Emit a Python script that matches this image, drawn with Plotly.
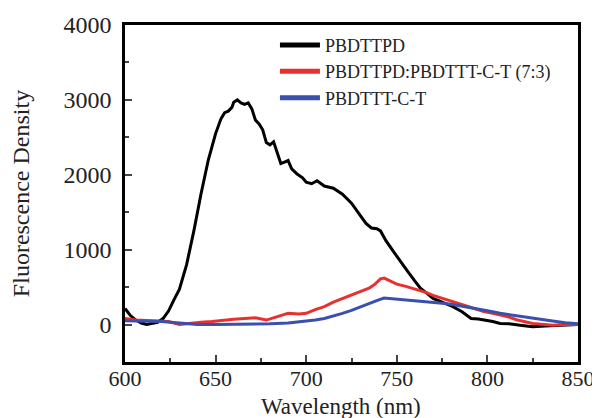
import plotly.graph_objects as go

# Wavelength (nm) and fluorescence values
black_x = [600, 603, 606, 609, 612, 615, 618, 621, 624, 627, 630, 634, 638, 642, 646, 650, 653, 655, 657, 659, 660, 662, 664, 666, 668, 670, 672, 674, 676, 678, 680, 682, 684, 686, 688, 690, 692, 695, 698, 700, 703, 706, 710, 715, 720, 725, 730, 733, 736, 739, 741, 744, 748, 752, 756, 760, 763, 767, 770, 775, 781, 786, 791, 795, 798, 803, 807, 812, 818, 825, 832, 840, 850]
black_y = [215, 120, 60, 20, 0, 10, 30, 80, 180, 330, 470, 800, 1250, 1750, 2200, 2550, 2750, 2830, 2850, 2900, 2970, 3000, 2960, 2940, 2960, 2880, 2730, 2680, 2600, 2430, 2400, 2440, 2300, 2150, 2170, 2190, 2080, 2010, 1960, 1900, 1880, 1920, 1850, 1820, 1740, 1620, 1450, 1350, 1290, 1280, 1250, 1120, 980, 840, 710, 580, 485, 410, 350, 300, 240, 170, 80, 75, 65, 40, 15, 10, -10, -30, -20, -10, 0]

red_x = [600, 606, 612, 618, 624, 630, 636, 642, 648, 654, 660, 666, 672, 678, 684, 690, 696, 700, 705, 710, 715, 720, 725, 730, 735, 738, 741, 743, 746, 750, 755, 761, 766, 770, 775, 781, 785, 789, 794, 798, 803, 807, 812, 816, 820, 825, 830, 836, 843, 850]
red_y = [80, 60, 55, 50, 40, 0, 20, 30, 40, 60, 70, 80, 90, 60, 110, 150, 140, 150, 200, 240, 300, 350, 390, 440, 490, 540, 610, 620, 590, 540, 510, 470, 430, 390, 350, 310, 280, 240, 200, 175, 150, 130, 100, 65, 40, 15, 5, -10, 0, 0]

blue_x = [600, 610, 620, 630, 640, 650, 660, 670, 680, 690, 700, 705, 710, 715, 720, 725, 730, 735, 740, 743, 748, 752, 758, 764, 770, 775, 780, 785, 789, 795, 800, 807, 815, 825, 835, 843, 850]
blue_y = [50, 45, 40, 20, 0, 0, 0, 5, 10, 20, 40, 60, 80, 110, 150, 190, 240, 280, 330, 355, 345, 335, 320, 310, 295, 285, 270, 250, 230, 210, 185, 150, 120, 80, 50, 25, 10]

names = ["PBDTTPD", "PBDTTPD:PBDTTT-C-T (7:3)", "PBDTTT-C-T"]
colors = ["#000000", "#e8312f", "#3a4fae"]

x_ticks = [600, 650, 700, 750, 800, 850]
y_ticks = [0, 1000, 2000, 3000, 4000]

fig = go.Figure()
for xs, ys, nm, c in [(black_x, black_y, names[0], colors[0]),
                      (red_x, red_y, names[1], colors[1]),
                      (blue_x, blue_y, names[2], colors[2])]:
    fig.add_trace(go.Scatter(x=xs, y=ys, mode="lines", name=nm,
                             line=dict(color=c, width=3)))

font = "Liberation Serif, Times New Roman, serif"
# page body has an 8px default margin, so the figure is sized 592x410
fig.update_layout(
    width=592, height=410,
    margin=dict(l=117, r=22, t=17, b=56, autoexpand=False),
    paper_bgcolor="white", plot_bgcolor="white",
    font=dict(family=font, color="#222", size=24),
    showlegend=True,
    legend=dict(x=0.331, y=0.995, xanchor="left", yanchor="top",
                bgcolor="rgba(0,0,0,0)", font=dict(size=18, family=font),
                itemwidth=40, tracegroupgap=0, itemsizing="constant"),
    xaxis=dict(range=[600, 850], tickvals=x_ticks, ticks="inside", ticklen=7,
               tickwidth=2, showline=True, linewidth=2.5, linecolor="black",
               mirror=True, showgrid=False, zeroline=False, automargin=False,
               minor=dict(dtick=25, ticks="inside", ticklen=4, tickwidth=2),
               ticklabelstandoff=-5,
               tickfont=dict(size=22)),
    yaxis=dict(range=[-500, 4000], tickvals=y_ticks, ticks="inside", ticklen=7,
               tickwidth=2, showline=True, linewidth=2.5, linecolor="black",
               mirror=True, showgrid=False, zeroline=False, automargin=False,
               minor=dict(dtick=500, ticks="inside", ticklen=4, tickwidth=2),
               title=dict(text="Fluorescence Density", standoff=34,
                          font=dict(size=24)),
               ticklabelstandoff=6,
               tickfont=dict(size=24)),
    annotations=[dict(text="Wavelength (nm)", xref="paper", yref="paper",
                      x=0.477, y=0, xanchor="center", yanchor="bottom",
                      yshift=-59, showarrow=False,
                      font=dict(size=23, family=font, color="#222"))],
)

fig.write_html("out.html")
